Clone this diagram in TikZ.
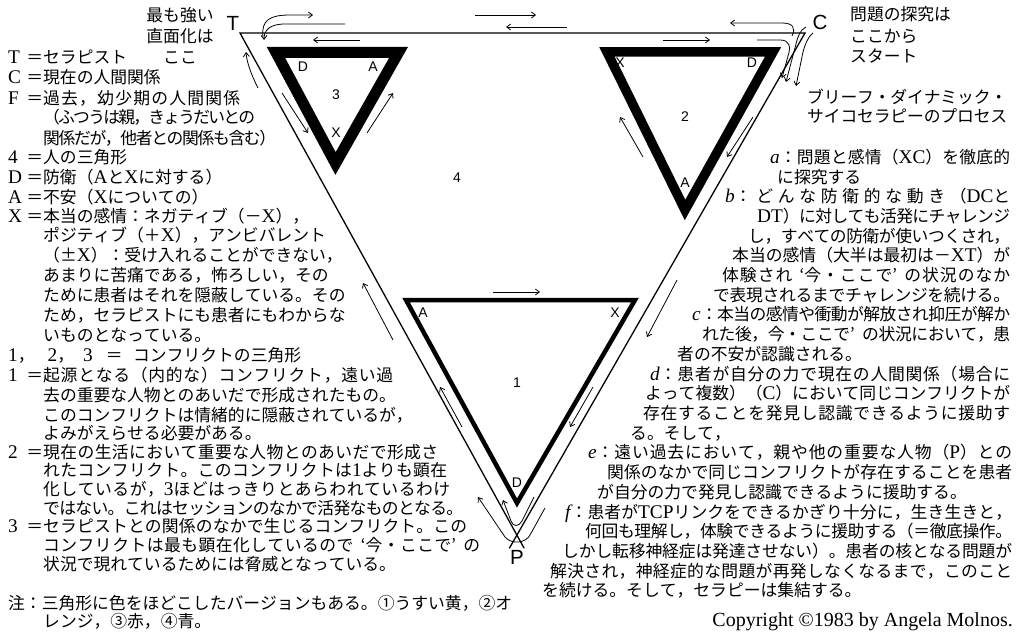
\documentclass[tikz,border=0pt]{standalone}
\usepackage{fontspec}
\usetikzlibrary{arrows.meta}
\newfontfamily\jp{Noto Sans CJK JP}
\newfontfamily\lat[Scale=1.15]{Liberation Serif}
\newfontfamily\lsans{Liberation Sans}
\newcommand\La[1]{{\lat #1}}
\newcommand\Li[1]{{\lat\itshape #1}}
\newcommand\jtext{\jp\fontsize{16.8}{20}\selectfont}
\newcommand\pre[1]{\makebox[35pt][s]{\La{#1}\hfill ＝}}
\newcommand\oq{\makebox[12pt][r]{‘}}
\newcommand\cq{\makebox[12pt][l]{’}}
% inter-character glue so that lines can be justified like the original
\newcount\cjkcc
\newcommand\cjkclass[2]{\cjkcc=#1\relax
  \loop \XeTeXcharclass\cjkcc=5 \ifnum\cjkcc<#2\relax \advance\cjkcc by 1 \repeat}
\cjkclass{"3000}{"30FF}
\cjkclass{"4E00}{"9FFF}
\cjkclass{"FF00}{"FFEF}
\cjkclass{"2460}{"24FF}
\XeTeXinterchartokenstate=1
\XeTeXinterchartoks 5 5 = {\hskip 0pt plus 1fil minus 1fil\relax}
\XeTeXinterchartoks 0 5 = {\hskip 0pt plus 1fil minus 1fil\relax}
\XeTeXinterchartoks 5 0 = {\hskip 0pt plus 1fil minus 1fil\relax}
\newcommand\jb[2]{\makebox[#1pt][s]{#2}}
\begin{document}
\begin{tikzpicture}[x=1pt,y=-1pt,
  jl/.style={anchor=base west,inner sep=0pt,font=\jtext},
  jr/.style={anchor=base east,inner sep=0pt,font=\jtext},
  jc/.style={anchor=base,inner sep=0pt,font=\jtext},
  lab/.style={inner sep=0pt,font=\lsans\fontsize{14}{14}\selectfont},
  biglab/.style={inner sep=0pt,font=\lsans\fontsize{20.5}{20.5}\selectfont},
  thinline/.style={line width=1.3pt,line cap=round},
  tri/.style={line join=miter,miter limit=20},
  arr/.style={line width=0.8pt,-{Straight Barb[length=4pt,width=6pt]}},
]
\useasboundingbox (0,0) rectangle (1021,642);
\fill[white] (0,0) rectangle (1021,642);

% ---------- outer triangle (4) ----------
\coordinate (T0) at (240,33);
\coordinate (C0) at (805,33);
\coordinate (P0) at (517,535);
\coordinate (PL) at (524,548);
\coordinate (PR) at (509.5,548);
\draw[thinline] (PR) -- (C0) -- (T0) -- (PL);

% ---------- conflict triangles ----------
\draw[tri,line width=11pt] (276,52.5) -- (398.5,52.5) -- (335.5,163.5) -- cycle;
\draw[tri,line width=9.5pt] (607,52) -- (773,52) -- (685,210) -- cycle;
\draw[tri,line width=4.5pt] (406,300) -- (635,300) -- (517,503) -- cycle;

% ---------- labels in the diagram ----------
\node[biglab] (lT) at (233,23) {T};
\node[biglab] (lC) at (820,22) {C};
\node[biglab] (lP) at (517,557) {P};
\node[lab] (n4) at (457,178) {4};
\node[lab] (t3D) at (303,67) {D};
\node[lab] (t3A) at (373,67) {A};
\node[lab] (t3n) at (336,95) {3};
\node[lab] (t3X) at (336,133) {X};
\node[lab] (t2X) at (620,63) {X};
\node[lab] (t2D) at (752,63) {D};
\node[lab] (t2n) at (685,117) {2};
\node[lab] (t2A) at (685,183) {A};
\node[lab] (t1A) at (423,313) {A};
\node[lab] (t1X) at (615,313) {X};
\node[lab] (t1n) at (517,383) {1};
\node[lab] (t1D) at (517,483) {D};

% ---------- process arrows ----------
\draw[arr] (263,37) .. controls (261,20) and (270,15) .. (290,15) -- (313,15);
\draw[arr] (345,24) -- (285,24) .. controls (270,24) and (264,30) .. (264,40);
\draw[arr] (360,40) -- (313,40);
\draw[arr] (258,88) .. controls (252,76) and (247,64) .. (246,52);
\draw[arr] (475,15) -- (536,15);
\draw[arr] (567,27) -- (506,27);
\draw[arr] (282,93) -- (308,133);
\draw[arr] (367,133) -- (393,93);
\draw[arr] (643,157) -- (620,117);
\draw[arr] (753,117) -- (727,157);
\draw[arr] (663,40) -- (710,40);
\draw[arr] (792,36) .. controls (796,28) and (793,23) .. (782,23) -- (730,23);
\draw[arr] (757,40) -- (780,40) .. controls (790,40) and (791,47) .. (788,56) -- (782,78);
\draw[arr] (806,27) .. controls (800,30) and (798,36) .. (796,44) -- (786,82);
\draw[arr] (813,33) .. controls (807,38) and (805,45) .. (803,52) -- (796,86);
\draw[arr] (677,280) -- (647,337);
\draw[arr] (493,292) -- (540,292);
\draw[arr] (462,427) -- (440,387);
\draw[arr] (593,387) -- (570,427);
\draw[arr] (393,340) -- (363,283);
\draw[arr] (534,497) -- (522,521) .. controls (519,527) and (513,527) .. (511,521) -- (503,500);
\draw[arr] (545,508) -- (530,535) .. controls (526,543) and (512,545) .. (505,537) -- (478,497);

% ---------- top captions ----------
\node[jc] (tl1) at (180,22) {最も強い};
\node[jc] (tl2) at (180,43) {直面化は};
\node[jc] (tl3) at (180,64) {ここ};
\node[jl] (tr1) at (850,21) {問題の探究は};
\node[jl] (tr2) at (850,43) {ここから};
\node[jl] (tr3) at (850,63) {スタート};
\node[jl] (tr4) at (807,103) {\jb{200}{ブリーフ・ダイナミック・}};
\node[jl] (tr5) at (807,123) {\jb{200}{サイコセラピーのプロセス}};

% ---------- left legend ----------
\node[jl] (l1) at (8,64) {\pre{T}セラピスト};
\node[jl] (l2) at (8,84) {\pre{C}現在の人間関係};
\node[jl] (l3) at (8,104) {\pre{F}\jb{197}{過去，幼少期の人間関係}};
\node[jl] (l4) at (43,124) {\jb{212}{（ふつうは親，きょうだいとの}};
\node[jl] (l5) at (43,144) {\jb{233}{関係だが，他者との関係も含む）}};
\node[jl] (l6) at (8,163) {\pre{4}人の三角形};
\node[jl] (l7) at (8,183) {\pre{D}防衛（\La{A}と\La{X}に対する）};
\node[jl] (l8) at (8,203) {\pre{A}不安（\La{X}についての）};
\node[jl] (l9) at (8,222) {\pre{X}本当の感情：ネガティブ（－\La{X}），};
\node[jl] (l10) at (43,241) {ポジティブ（＋\La{X}），アンビバレント};
\node[jl] (l11) at (43,261) {（±\La{X}）：受け入れることができない，};
\node[jl] (l12) at (43,281) {あまりに苦痛である，怖ろしい，その};
\node[jl] (l13) at (43,301) {ために患者はそれを隠蔽している。その};
\node[jl] (l14) at (43,321) {ため，セラピストにも患者にもわからな};
\node[jl] (l15) at (43,341) {いものとなっている。};
\node[jl] (l16) at (8,361) {\makebox[125pt][l]{\La{1}，\hspace{13pt}\La{2}，\hspace{9pt}\La{3}\hspace{13pt}＝}コンフリクトの三角形};
\node[jl] (l17) at (8,381) {\pre{1}\jb{350}{起源となる（内的な）コンフリクト，遠い過}};
\node[jl] (l18) at (43,401) {去の重要な人物とのあいだで形成されたもの。};
\node[jl] (l19) at (43,421) {このコンフリクトは情緒的に隠蔽されているが，};
\node[jl] (l20) at (43,439) {よみがえらせる必要がある。};
\node[jl] (l21) at (8,458) {\pre{2}\jb{395}{現在の生活において重要な人物とのあいだで形成さ}};
\node[jl] (l22) at (43,476) {\jb{404}{れたコンフリクト。このコンフリクトは\La{1}よりも顕在}};
\node[jl] (l23) at (43,495) {\jb{407}{化しているが，\La{3}ほどはっきりとあらわれているわけ}};
\node[jl] (l24) at (43,514) {\jb{420}{ではない。これはセッションのなかで活発なものとなる。}};
\node[jl] (l25) at (8,532) {\pre{3}\jb{424}{セラピストとの関係のなかで生じるコンフリクト。この}};
\node[jl] (l26) at (43,551) {\jb{437}{コンフリクトは最も顕在化しているので\oq 今・ここで\cq の}};
\node[jl] (l27) at (43,570) {状況で現れているためには脅威となっている。};
\node[jl] (l28) at (8,609) {注：三角形に色をほどこしたバージョンもある。①うすい黄，②オ};
\node[jl] (l29) at (43,627) {レンジ，③赤，④青。};

% ---------- right process text ----------
\node[jl] (r1) at (770,163) {\jb{240}{\Li{a}：問題と感情（\La{XC}）を徹底的}};
\node[jl] (r2) at (777,183) {に探究する};
\node[jl] (r3) at (725,202) {\jb{285}{\Li{b}：どんな防衛的な動き（\La{DC}と}};
\node[jl] (r4) at (757,222) {\jb{253}{\La{DT}）に対しても活発にチャレンジ}};
\node[jl] (r5) at (748,242) {\jb{262}{し，すべての防衛が使いつくされ，}};
\node[jl] (r6) at (732,261) {\jb{278}{本当の感情（大半は最初は－\La{XT}）が}};
\node[jl] (r7) at (722,281) {\jb{288}{体験され\oq 今・ここで\cq の状況のなか}};
\node[jl] (r8) at (713,301) {\jb{297}{で表現されるまでチャレンジを続ける。}};
\node[jl] (r9) at (692,320) {\jb{318}{\Li{c}：本当の感情や衝動が解放され抑圧が解か}};
\node[jl] (r10) at (702,340) {\jb{308}{れた後，今・ここで\cq の状況において，患}};
\node[jl] (r11) at (677,360) {者の不安が認識される。};
\node[jl] (r12) at (650,380) {\jb{360}{\Li{d}：患者が自分の力で現在の人間関係（場合に}};
\node[jl] (r13) at (645,399) {\jb{365}{よって複数）（\La{C}）において同じコンフリクトが}};
\node[jl] (r14) at (643,419) {\jb{367}{存在することを発見し認識できるように援助す}};
\node[jl] (r15) at (630,439) {る。そして，};
\node[jl] (r16) at (588,458) {\jb{424}{\Li{e}：遠い過去において，親や他の重要な人物（\La{P}）との}};
\node[jl] (r17) at (607,478) {\jb{405}{関係のなかで同じコンフリクトが存在することを患者}};
\node[jl] (r18) at (597,498) {が自分の力で発見し認識できるように援助する。};
\node[jl] (r19) at (565,518) {\jb{447}{\Li{f}：患者が\La{TCP}リンクをできるかぎり十分に，生き生きと，}};
\node[jl] (r20) at (585,537) {\jb{427}{何回も理解し，体験できるように援助する（＝徹底操作。}};
\node[jl] (r21) at (562,557) {\jb{450}{しかし転移神経症は発達させない）。患者の核となる問題が}};
\node[jl] (r22) at (550,577) {\jb{462}{解決され，神経症的な問題が再発しなくなるまで，このこと}};
\node[jl] (r23) at (542,596) {を続ける。そして，セラピーは集結する。};
\node[anchor=base east,inner sep=0pt,font=\lat\fontsize{17.4}{17.4}\selectfont] (cpy) at (1013,626) {Copyright ©1983 by Angela Molnos.};
\end{tikzpicture}
\end{document}
